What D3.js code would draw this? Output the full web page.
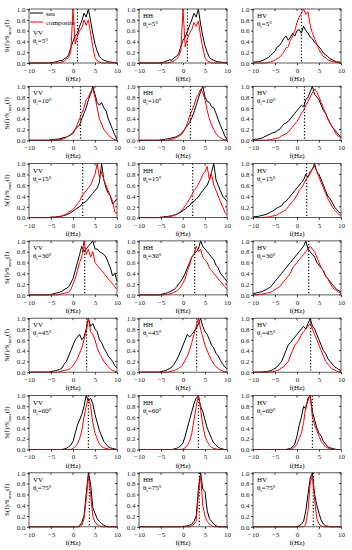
<!DOCTYPE html>
<html>
<head>
<meta charset="utf-8">
<script src="https://cdn.jsdelivr.net/npm/d3@7"></script>
<style>
  body { margin: 0; background: #fff; }
  text { font-family: "Liberation Serif", "DejaVu Serif", serif; }
</style>
</head>
<body>
<div id="root"></div>
<script>
// Doppler spectra, sampled every 0.5 Hz from -10 to 10 Hz
const freqs = [-10,-9.5,-9,-8.5,-8,-7.5,-7,-6.5,-6,-5.5,
  -5,-4.5,-4,-3.5,-3,-2.5,-2,-1.5,-1,-0.5,
  0,0.5,1,1.5,2,2.5,3,3.5,4,4.5,
  5,5.5,6,6.5,7,7.5,8,8.5,9,9.5,10];

const pols = ['VV', 'HH', 'HV'];
const angles = [5, 10, 15, 30, 45, 60, 75];
// dotted line position (Hz) for each incidence angle
const shifts = [1.0, 1.7, 2.2, 2.65, 3.1, 3.5, 3.7];
const xTicks = [-10, -5, 0, 5, 10];
const yTicks = [0, 0.2, 0.4, 0.6, 0.8, 1.0];

// ---- 5 deg ----
const vv5Sea = [0,0,0,0,0,0,0,0,0,0,
  0.01,0.01,0.02,0.03,0.05,0.04,0.08,0.1,0.15,0.28,
  0.4,0.5,0.55,0.68,0.78,0.92,0.85,1.0,0.78,0.55,
  0.35,0.22,0.12,0.08,0.05,0.04,0.02,0.02,0.01,0.01,0];
const vv5Comp = [0,0,0,0,0,0,0,0,0,0,
  0,0,0,0,0.01,0.02,0.03,0.08,0.1,0.2,
  1.0,0.35,0.5,0.6,0.65,0.8,0.7,0.8,0.55,0.3,
  0.1,0.04,0.02,0,0,0,0,0,0,0,0];
const hh5Sea = [0,0,0,0,0,0,0,0,0,0,
  0.01,0.01,0.03,0.04,0.06,0.05,0.1,0.12,0.17,0.3,
  0.42,0.48,0.58,0.7,0.8,0.92,0.85,1.0,0.72,0.5,
  0.32,0.2,0.1,0.07,0.05,0.03,0.02,0.02,0.01,0.01,0];
const hh5Comp = [0,0,0,0,0,0,0,0,0,0,
  0,0,0,0,0.01,0.02,0.04,0.07,0.12,0.22,
  1.0,0.3,0.45,0.55,0.62,0.75,0.68,0.78,0.5,0.28,
  0.1,0.04,0.02,0,0,0,0,0,0,0,0];
const hv5Sea = [0.01,0.02,0.02,0.03,0.04,0.06,0.08,0.1,0.14,0.18,
  0.22,0.3,0.32,0.38,0.45,0.5,0.42,0.48,0.55,0.5,
  0.6,0.62,0.55,0.68,0.6,0.55,0.48,0.45,0.38,0.35,
  0.3,0.25,0.18,0.15,0.12,0.08,0.06,0.04,0.02,0.02,0.01];
const hv5Comp = [0,0,0,0,0,0,0,0.01,0.02,0.03,
  0.05,0.08,0.1,0.15,0.2,0.28,0.3,0.42,0.5,0.6,
  0.75,0.85,0.92,1.0,0.9,0.95,0.7,0.55,0.45,0.35,
  0.25,0.18,0.12,0.1,0.06,0.04,0.03,0.02,0.01,0,0];

// ---- 10 deg ----
const vv10Sea = [0,0,0,0,0,0,0,0,0,0,
  0.01,0.01,0.02,0.02,0.03,0.04,0.05,0.06,0.08,0.1,
  0.15,0.2,0.25,0.28,0.4,0.5,0.6,0.75,0.85,1.0,
  0.85,0.7,0.65,0.7,0.6,0.55,0.4,0.3,0.2,0.1,0.02];
const vv10Comp = [0,0,0,0,0,0,0,0,0,0,
  0,0,0,0,0.01,0.02,0.03,0.05,0.08,0.1,
  0.12,0.2,0.3,0.4,0.5,0.6,0.75,0.8,0.9,0.95,
  0.8,0.6,0.4,0.3,0.2,0.15,0.1,0.06,0.03,0.01,0];
const hh10Sea = [0,0,0,0,0,0,0,0,0,0,
  0.01,0.01,0.02,0.03,0.03,0.05,0.05,0.07,0.09,0.12,
  0.16,0.22,0.27,0.33,0.42,0.52,0.65,0.78,0.9,1.0,
  0.8,0.72,0.7,0.62,0.6,0.5,0.38,0.28,0.18,0.08,0.02];
const hh10Comp = [0,0,0,0,0,0,0,0,0,0,
  0,0,0,0,0.01,0.02,0.03,0.05,0.07,0.1,
  0.14,0.22,0.32,0.45,0.55,0.65,0.78,0.85,0.95,0.88,
  0.75,0.55,0.4,0.28,0.2,0.12,0.08,0.05,0.02,0.01,0];
const hv10Sea = [0.01,0.02,0.02,0.03,0.04,0.06,0.08,0.1,0.12,0.14,
  0.15,0.18,0.2,0.25,0.3,0.32,0.35,0.4,0.45,0.5,
  0.55,0.6,0.65,0.62,0.75,0.8,0.9,1.0,0.85,0.8,
  0.75,0.65,0.55,0.5,0.4,0.32,0.25,0.2,0.15,0.1,0.05];
const hv10Comp = [0,0,0,0,0,0,0,0.01,0.01,0.02,
  0.03,0.04,0.05,0.08,0.1,0.12,0.15,0.2,0.25,0.3,
  0.35,0.42,0.5,0.55,0.65,0.72,0.8,0.88,0.95,0.9,
  0.8,0.7,0.6,0.5,0.4,0.32,0.25,0.18,0.1,0.07,0.05];

// ---- 15 deg ----
const vv15Sea = [0,0,0,0,0,0,0,0,0,0,
  0.01,0.01,0.01,0.02,0.02,0.03,0.04,0.05,0.07,0.09,
  0.12,0.15,0.18,0.2,0.25,0.28,0.3,0.35,0.4,0.45,
  0.5,0.55,0.65,1.0,0.7,0.55,0.45,0.4,0.25,0.3,0.35];
const vv15Comp = [0,0,0,0,0,0,0,0,0,0,
  0,0,0.01,0.01,0.02,0.03,0.05,0.07,0.1,0.12,
  0.15,0.2,0.25,0.3,0.4,0.45,0.5,0.55,0.6,0.7,
  0.8,1.0,0.75,0.85,0.7,0.6,0.5,0.4,0.3,0.1,0.08];
const hh15Sea = [0,0,0,0,0,0,0,0,0,0,
  0.01,0.01,0.02,0.02,0.03,0.03,0.05,0.06,0.08,0.1,
  0.13,0.16,0.2,0.22,0.28,0.3,0.35,0.38,0.45,0.5,
  0.55,0.6,0.7,0.85,1.0,0.7,0.6,0.5,0.4,0.35,0.3];
const hh15Comp = [0,0,0,0,0,0,0,0,0,0,
  0,0,0.01,0.01,0.02,0.03,0.04,0.06,0.09,0.12,
  0.16,0.22,0.28,0.35,0.42,0.5,0.55,0.62,0.7,0.8,
  0.85,0.95,0.7,0.8,0.6,0.5,0.4,0.3,0.2,0.1,0.05];
const hv15Sea = [0.01,0.02,0.02,0.03,0.04,0.05,0.06,0.08,0.1,0.12,
  0.15,0.18,0.2,0.22,0.28,0.3,0.35,0.4,0.45,0.5,
  0.55,0.6,0.65,0.7,0.8,0.75,0.85,0.9,1.0,0.85,
  0.8,0.7,0.6,0.5,0.4,0.35,0.28,0.2,0.15,0.1,0.08];
const hv15Comp = [0,0,0,0,0,0,0.01,0.01,0.02,0.03,
  0.04,0.05,0.08,0.1,0.12,0.15,0.2,0.25,0.3,0.35,
  0.42,0.5,0.55,0.62,0.7,0.75,0.82,0.9,0.95,0.85,
  0.75,0.65,0.55,0.45,0.35,0.28,0.2,0.15,0.1,0.06,0.04];

// ---- 30 deg ----
const vv30Sea = [0,0,0,0,0,0,0,0,0,0,
  0.01,0.02,0.03,0.04,0.05,0.07,0.1,0.12,0.15,0.22,
  0.3,0.45,0.6,0.75,0.9,0.8,0.85,0.9,0.95,1.0,
  0.85,0.85,0.8,0.78,0.75,0.7,0.6,0.5,0.35,0.4,0.25];
const vv30Comp = [0,0,0,0,0,0,0,0,0,0,
  0,0,0,0,0.01,0.02,0.03,0.04,0.05,0.1,
  0.2,0.3,0.45,0.6,0.7,1.0,0.75,0.85,0.7,0.8,
  0.6,0.55,0.5,0.45,0.4,0.35,0.3,0.25,0.2,0.15,0.1];
const hh30Sea = [0,0,0,0,0,0,0,0,0,0,
  0.01,0.02,0.03,0.04,0.06,0.08,0.1,0.14,0.2,0.25,
  0.32,0.4,0.5,0.6,0.7,0.75,0.8,0.85,1.0,0.9,
  0.85,0.8,0.75,0.7,0.65,0.55,0.5,0.4,0.35,0.3,0.25];
const hh30Comp = [0,0,0,0,0,0,0,0,0,0,
  0,0,0.01,0.01,0.02,0.03,0.05,0.07,0.1,0.15,
  0.22,0.3,0.45,0.55,0.7,0.75,0.9,0.8,0.85,0.7,
  0.65,0.6,0.5,0.45,0.4,0.35,0.3,0.25,0.2,0.15,0.1];
const hv30Sea = [0.02,0.03,0.04,0.05,0.06,0.08,0.1,0.12,0.15,0.2,
  0.25,0.3,0.35,0.4,0.45,0.5,0.55,0.6,0.65,0.7,
  0.75,0.8,0.85,0.9,1.0,0.85,0.8,0.75,0.7,0.6,
  0.55,0.5,0.45,0.35,0.3,0.25,0.2,0.15,0.1,0.08,0.05];
const hv30Comp = [0,0,0,0.01,0.01,0.02,0.03,0.04,0.05,0.07,
  0.1,0.12,0.15,0.2,0.25,0.3,0.35,0.4,0.5,0.55,
  0.6,0.65,0.7,0.75,0.8,0.85,0.9,0.85,0.8,0.7,
  0.6,0.5,0.45,0.35,0.3,0.22,0.15,0.1,0.08,0.05,0.03];

// ---- 45 deg ----
const vv45Sea = [0,0,0,0,0,0,0,0,0,0,
  0.01,0.02,0.03,0.04,0.05,0.08,0.15,0.2,0.3,0.4,
  0.5,0.6,0.65,0.7,0.6,0.65,0.8,1.0,0.85,0.9,
  0.8,0.75,0.6,0.55,0.45,0.38,0.3,0.25,0.2,0.12,0.08];
const vv45Comp = [0,0,0,0,0,0,0,0,0,0,
  0,0,0,0,0.01,0.02,0.03,0.04,0.05,0.08,
  0.12,0.18,0.25,0.35,0.45,0.6,0.75,1.0,0.75,0.7,
  0.6,0.45,0.35,0.28,0.2,0.15,0.1,0.06,0.03,0.02,0];
const hh45Sea = [0,0,0,0,0,0,0,0,0,0,
  0.01,0.02,0.03,0.05,0.07,0.1,0.15,0.22,0.3,0.4,
  0.5,0.6,0.7,0.65,0.7,0.75,0.8,0.9,1.0,0.85,
  0.75,0.7,0.6,0.5,0.45,0.35,0.3,0.22,0.15,0.1,0.06];
const hh45Comp = [0,0,0,0,0,0,0,0,0,0,
  0,0,0,0,0.01,0.02,0.03,0.05,0.07,0.1,
  0.15,0.22,0.3,0.4,0.55,0.7,0.85,1.0,0.8,0.65,
  0.5,0.4,0.3,0.22,0.15,0.1,0.07,0.04,0.02,0.01,0];
const hv45Sea = [0,0,0,0,0,0.01,0.01,0.02,0.03,0.05,
  0.07,0.1,0.15,0.2,0.3,0.4,0.5,0.55,0.6,0.65,
  0.7,0.75,0.8,0.85,0.8,0.9,1.0,0.85,0.8,0.7,
  0.6,0.5,0.4,0.35,0.25,0.2,0.15,0.1,0.08,0.05,0.03];
const hv45Comp = [0,0,0,0,0,0,0,0,0.01,0.01,
  0.02,0.03,0.05,0.08,0.1,0.15,0.2,0.3,0.4,0.5,
  0.55,0.6,0.7,0.75,0.8,0.85,0.9,0.8,0.7,0.6,
  0.5,0.4,0.3,0.2,0.15,0.1,0.06,0.04,0.02,0.01,0];

// ---- 60 deg ----
const vv60Sea = [0,0,0,0,0,0,0,0,0,0,
  0,0,0,0,0,0,0.01,0.02,0.05,0.08,
  0.15,0.3,0.45,0.55,0.65,0.8,1.0,0.9,0.95,0.85,
  0.65,0.5,0.35,0.25,0.15,0.1,0.05,0.03,0.02,0.01,0];
const vv60Comp = [0,0,0,0,0,0,0,0,0,0,
  0,0,0,0,0,0,0,0,0,0,
  0.02,0.05,0.1,0.2,0.35,0.6,0.8,0.95,0.8,0.5,
  0.3,0.2,0.1,0.06,0.03,0.02,0.01,0,0,0,0];
const hh60Sea = [0,0,0,0,0,0,0,0,0,0,
  0,0,0,0,0,0,0.01,0.02,0.04,0.07,
  0.12,0.25,0.4,0.55,0.7,0.85,0.95,1.0,0.8,0.7,
  0.55,0.4,0.3,0.2,0.12,0.08,0.04,0.02,0.01,0,0];
const hh60Comp = [0,0,0,0,0,0,0,0,0,0,
  0,0,0,0,0,0,0,0,0,0,
  0.01,0.03,0.08,0.15,0.3,0.55,0.8,1.0,0.75,0.45,
  0.25,0.15,0.08,0.04,0.02,0.01,0,0,0,0,0];
const hv60Sea = [0,0,0,0,0,0,0,0,0,0,
  0,0,0,0,0,0,0.01,0.02,0.05,0.1,
  0.25,0.45,0.6,0.8,0.75,0.95,1.0,0.7,0.55,0.4,
  0.3,0.25,0.15,0.1,0.05,0.03,0.02,0.01,0,0,0];
const hv60Comp = [0,0,0,0,0,0,0,0,0,0,
  0,0,0,0,0,0,0,0,0.02,0.05,
  0.1,0.2,0.3,0.5,0.8,0.9,1.0,0.6,0.45,0.35,
  0.25,0.15,0.1,0.05,0.03,0.01,0,0,0,0,0];

// ---- 75 deg ----
const vv75Sea = [0,0,0,0,0,0,0,0,0,0,
  0,0,0,0,0,0,0,0,0,0,
  0,0,0,0.02,0.08,0.2,0.6,1.0,0.8,0.35,
  0.25,0.15,0.1,0.06,0.03,0.01,0,0,0,0,0];
const vv75Comp = [0,0,0,0,0,0,0,0,0,0,
  0,0,0,0,0,0,0,0,0,0,
  0,0,0,0,0.03,0.15,0.5,0.95,0.6,0.2,
  0.08,0.04,0.02,0,0,0,0,0,0,0,0];
const hh75Sea = [0,0,0,0,0,0,0,0,0,0,
  0,0,0,0,0,0,0,0,0,0,
  0.01,0.01,0.02,0.03,0.05,0.1,0.2,0.7,1.0,0.7,
  0.65,0.3,0.15,0.1,0.05,0.02,0,0,0,0,0];
const hh75Comp = [0,0,0,0,0,0,0,0,0,0,
  0,0,0,0,0,0,0,0,0,0,
  0,0,0,0,0.02,0.05,0.1,0.6,0.95,0.4,
  0.2,0.1,0.05,0.02,0,0,0,0,0,0,0];
const hv75Sea = [0,0,0,0,0,0,0,0,0,0,
  0,0,0,0,0,0,0,0,0,0,
  0,0.02,0.05,0.1,0.3,0.6,0.9,1.0,0.6,0.4,
  0.25,0.12,0.05,0.02,0.01,0,0,0,0,0,0];
const hv75Comp = [0,0,0,0,0,0,0,0,0,0,
  0,0,0,0,0,0,0,0,0,0,
  0,0,0,0,0.05,0.3,0.8,0.95,0.5,0.15,
  0.05,0.02,0,0,0,0,0,0,0,0,0];

// rows = incidence angles, columns = polarisations
const seaRows = [
  [vv5Sea, hh5Sea, hv5Sea],
  [vv10Sea, hh10Sea, hv10Sea],
  [vv15Sea, hh15Sea, hv15Sea],
  [vv30Sea, hh30Sea, hv30Sea],
  [vv45Sea, hh45Sea, hv45Sea],
  [vv60Sea, hh60Sea, hv60Sea],
  [vv75Sea, hh75Sea, hv75Sea]
];
const compRows = [
  [vv5Comp, hh5Comp, hv5Comp],
  [vv10Comp, hh10Comp, hv10Comp],
  [vv15Comp, hh15Comp, hv15Comp],
  [vv30Comp, hh30Comp, hv30Comp],
  [vv45Comp, hh45Comp, hv45Comp],
  [vv60Comp, hh60Comp, hv60Comp],
  [vv75Comp, hh75Comp, hv75Comp]
];

// Layout of the panel grid.
const W = 352, H = 550;
const colLeft = [29, 139, 253];
const pw = 88, ph = 54;
const rowTop0 = 9, rowStep = 77.3;
const fs = '7px';

const svg = d3.select('#root')
  .append('svg')
  .attr('width', W)
  .attr('height', H)
  .style('display', 'block');

svg.append('rect').attr('width', W).attr('height', H).attr('fill', '#fff');

const x = d3.scaleLinear().domain([-10, 10]).range([0, pw]);
const y = d3.scaleLinear().domain([0, 1]).range([ph, 0]);

const line = d3.line()
  .x((d, i) => x(freqs[i]))
  .y(d => y(d));

angles.forEach(function (ang, r) {
  pols.forEach(function (pol, c) {
    const g = svg.append('g')
      .attr('transform', `translate(${colLeft[c]}, ${rowTop0 + r * rowStep})`);

    // axes
    const xAxis = g.append('g')
      .attr('transform', `translate(0, ${ph})`)
      .call(d3.axisBottom(x).tickValues(xTicks).tickSize(2).tickPadding(3).tickFormat(d3.format('d')));
    const yAxis = g.append('g')
      .call(d3.axisLeft(y).tickValues(yTicks).tickSize(2).tickPadding(1.5).tickFormat(d3.format('.1f')));
    [xAxis, yAxis].forEach(a => {
      a.select('.domain').remove();
      a.selectAll('line').attr('stroke', '#333');
      a.selectAll('text').style('font-family', '"Liberation Serif", serif').style('font-size', fs).attr('fill', '#222');
    });

    // right / top mirror ticks
    g.selectAll('.rt').data(yTicks).enter().append('line')
      .attr('x1', pw).attr('x2', pw - 2)
      .attr('y1', d => y(d)).attr('y2', d => y(d))
      .attr('stroke', '#333');
    g.selectAll('.tt').data(xTicks).enter().append('line')
      .attr('x1', d => x(d)).attr('x2', d => x(d))
      .attr('y1', 0).attr('y2', 2)
      .attr('stroke', '#333');

    // dotted Doppler shift line
    g.append('line')
      .attr('x1', x(shifts[r])).attr('x2', x(shifts[r]))
      .attr('y1', y(1)).attr('y2', y(0))
      .attr('stroke', '#000')
      .attr('stroke-width', 1.2)
      .attr('stroke-dasharray', '1.2,2');

    g.append('path')
      .datum(seaRows[r][c])
      .attr('fill', 'none')
      .attr('stroke', '#000')
      .attr('stroke-width', 1)
      .attr('d', line);

    g.append('path')
      .datum(compRows[r][c])
      .attr('fill', 'none')
      .attr('stroke', '#ff0000')
      .attr('stroke-width', 1)
      .attr('d', line);

    // frame
    g.append('rect')
      .attr('width', pw).attr('height', ph)
      .attr('fill', 'none')
      .attr('stroke', '#333')
      .attr('stroke-width', 0.8);

    // panel labels
    const ly = (r === 0 && c === 0) ? 24 : 7;
    g.append('text')
      .attr('x', 4).attr('y', ly + 2)
      .style('font-size', fs)
      .text(pol);
    const t = g.append('text')
      .attr('x', 4).attr('y', ly + 10)
      .style('font-size', fs);
    t.append('tspan').text('θ');
    t.append('tspan').attr('dy', 2).style('font-size', '5px').text('i');
    t.append('tspan').attr('dy', -2).text('=' + ang + '°');

    // x label
    g.append('text')
      .attr('x', pw / 2).attr('y', ph + 18)
      .attr('text-anchor', 'middle')
      .style('font-size', fs)
      .text('f(Hz)');

    // y label only on first column
    if (c === 0) {
      const yl = g.append('text')
        .attr('transform', `translate(-20, ${ph / 2}) rotate(-90)`)
        .attr('text-anchor', 'middle')
        .style('font-size', fs);
      yl.append('tspan').text('S(f)/S');
      yl.append('tspan').attr('dy', 2).style('font-size', '5px').text('max');
      yl.append('tspan').attr('dy', -2).text('(f)');
    }

    // legend in the very first panel
    if (r === 0 && c === 0) {
      const leg = [['sea', '#000'], ['composite', '#ff0000']];
      leg.forEach(function (d, i) {
        g.append('line')
          .attr('x1', 1).attr('x2', 14)
          .attr('y1', 4 + i * 9).attr('y2', 4 + i * 9)
          .attr('stroke', d[1]).attr('stroke-width', 1);
        g.append('text')
          .attr('x', 17).attr('y', 6.5 + i * 9)
          .style('font-size', fs)
          .text(d[0]);
      });
    }
  });
});
</script>
</body>
</html>
